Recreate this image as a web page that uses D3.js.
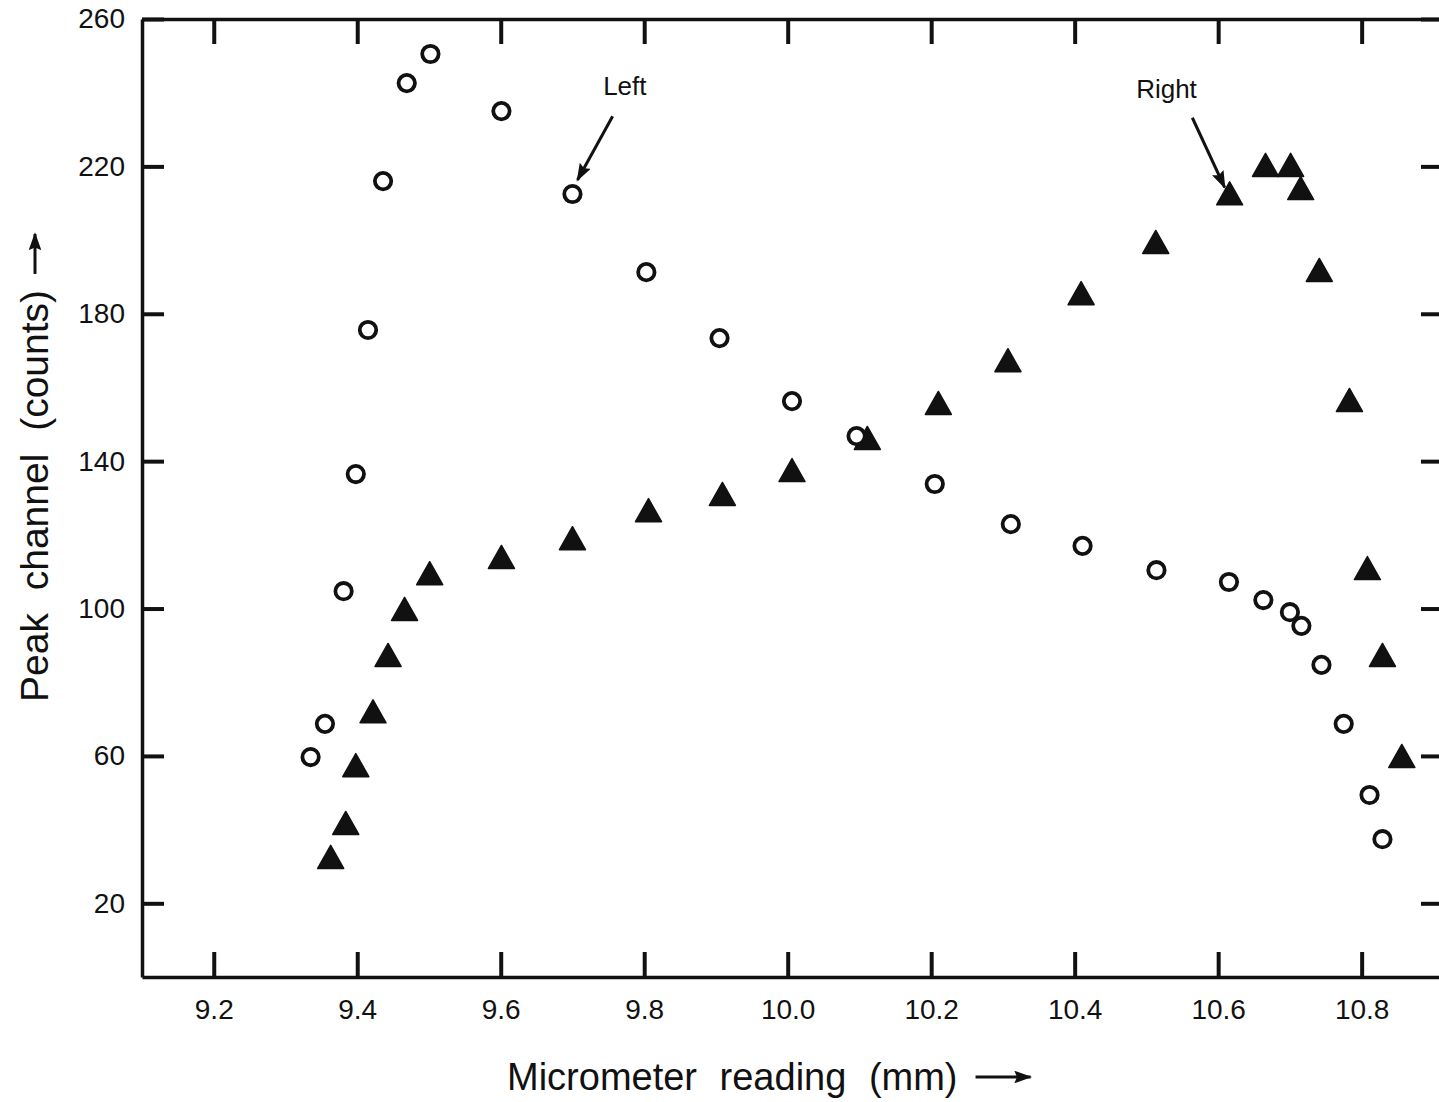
<!DOCTYPE html>
<html>
<head>
<meta charset="utf-8">
<script src="https://cdn.jsdelivr.net/npm/d3@7"></script>
<style>
  body { margin: 0; background: #fff; }
  text { font-family: "Liberation Sans", Arial, Helvetica, sans-serif; fill: #111; }
</style>
</head>
<body>
<div id="chart"></div>
<script>
// micrometer reading (mm) and peak channel (counts) per detector
var leftX = [9.335, 9.355, 9.381, 9.398, 9.415, 9.436, 9.469, 9.502, 9.601, 9.700, 9.803, 9.905,
  10.006, 10.096, 10.205, 10.311, 10.411, 10.514, 10.615, 10.663, 10.700, 10.716, 10.744, 10.775, 10.811, 10.829];
var leftY = [59.7, 68.7, 104.7, 136.5, 175.6, 216, 242.6, 250.5, 235, 212.5, 191.3, 173.4,
  156.3, 146.8, 133.8, 122.9, 117, 110.4, 107.2, 102.3, 99, 95.3, 84.7, 68.7, 49.4, 37.4];

var rightX = [9.363, 9.384, 9.398, 9.422, 9.443, 9.466, 9.501, 9.601, 9.700, 9.806, 9.909, 10.006,
  10.111, 10.210, 10.307, 10.409, 10.513, 10.616, 10.666, 10.701, 10.715, 10.741, 10.783, 10.808, 10.829, 10.856];
var rightY = [32.6, 41.8, 57.5, 72.1, 87.4, 99.9, 109.6, 114, 119.1, 126.7, 131.1, 137.6,
  146.3, 155.8, 167.4, 185.6, 199.5, 212.7, 220.4, 220.4, 214.1, 191.9, 156.6, 111, 87.4, 60];

var xTicks = [9.2, 9.4, 9.6, 9.8, 10.0, 10.2, 10.4, 10.6, 10.8];
var yTicks = [20, 60, 100, 140, 180, 220, 260];

var svgWidth = 1439, svgHeight = 1102;
var margin = {top: 19, left: 142, bottom: 125};

var svg = d3.select("#chart").append("svg")
  .attr("width", svgWidth)
  .attr("height", svgHeight);

var x = d3.scaleLinear().domain([9.1, 10.912]).range([margin.left, 1442]);
var y = d3.scaleLinear().domain([0, 260]).range([svgHeight - margin.bottom, margin.top]);

var ink = "#111";
var frameW = 3.5;

function styleAxis(g) {
  g.select(".domain").attr("stroke", ink).attr("stroke-width", frameW);
  g.selectAll(".tick line").attr("stroke", ink).attr("stroke-width", 4);
  g.selectAll(".tick text").style("font-size", "28px").attr("fill", ink);
}

// bottom axis with labels
svg.append("g")
  .attr("transform", `translate(0, ${y(0)})`)
  .call(d3.axisBottom(x).tickValues(xTicks).tickFormat(d3.format(".1f"))
    .tickSize(-25).tickSizeOuter(0).tickPadding(22))
  .call(styleAxis);

// top axis, ticks only
svg.append("g")
  .attr("transform", `translate(0, ${y(260)})`)
  .call(d3.axisTop(x).tickValues(xTicks).tickFormat("")
    .tickSize(-25).tickSizeOuter(0))
  .call(styleAxis);

// left axis with labels
svg.append("g")
  .attr("transform", `translate(${x(9.1)}, 0)`)
  .call(d3.axisLeft(y).tickValues(yTicks)
    .tickSize(-22).tickSizeOuter(0).tickPadding(17))
  .call(styleAxis);

// right axis, ticks only (frame edge sits just past the page)
svg.append("g")
  .attr("transform", `translate(${x(10.912)}, 0)`)
  .call(d3.axisRight(y).tickValues(yTicks).tickFormat("")
    .tickSize(-21).tickSizeOuter(0))
  .call(styleAxis);

// arrowhead marker
var defs = svg.append("defs");
defs.append("marker")
  .attr("id", "head")
  .attr("viewBox", "0 0 10 7")
  .attr("refX", 9).attr("refY", 3.5)
  .attr("markerUnits", "userSpaceOnUse")
  .attr("markerWidth", 18).attr("markerHeight", 12.6)
  .attr("orient", "auto")
  .append("path")
  .attr("d", "M0,0 L10,3.5 L0,7 L1.5,3.5 Z")
  .attr("fill", ink);

// right detector: filled triangles
var triW = 26, triH = 23;
var triPath = `M0,${-triH / 2} L${triW / 2},${triH / 2} L${-triW / 2},${triH / 2} Z`;
svg.append("g").selectAll("path")
  .data(d3.zip(rightX, rightY))
  .enter().append("path")
  .attr("d", triPath)
  .attr("transform", d => `translate(${x(d[0])}, ${y(d[1])})`)
  .attr("fill", ink)
  .attr("stroke", ink)
  .attr("stroke-width", 1.5)
  .attr("stroke-linejoin", "round");

// left detector: open circles
svg.append("g").selectAll("circle")
  .data(d3.zip(leftX, leftY))
  .enter().append("circle")
  .attr("cx", d => x(d[0]))
  .attr("cy", d => y(d[1]))
  .attr("r", 8.2)
  .attr("fill", "#fff")
  .attr("stroke", ink)
  .attr("stroke-width", 3.8);

// annotations: label position and arrow from/to, in data units
var noteText = ["Left", "Right"];
var noteAt = [[9.773, 239.3], [10.528, 238.5]];
var noteFrom = [[9.756, 233.6], [10.564, 233.2]];
var noteTo = [[9.707, 216.3], [10.609, 214.3]];

noteText.forEach(function(t, i) {
  svg.append("text")
    .attr("x", x(noteAt[i][0]))
    .attr("y", y(noteAt[i][1]))
    .attr("text-anchor", "middle")
    .style("font-size", "26px")
    .text(t);
  svg.append("line")
    .attr("x1", x(noteFrom[i][0])).attr("y1", y(noteFrom[i][1]))
    .attr("x2", x(noteTo[i][0])).attr("y2", y(noteTo[i][1]))
    .attr("stroke", ink).attr("stroke-width", 3)
    .attr("marker-end", "url(#head)");
});

// axis titles with trailing arrows
var xTitle = svg.append("text")
  .attr("x", 507)
  .attr("y", 1090)
  .style("font-size", "38px")
  .style("word-spacing", "12px")
  .text("Micrometer reading (mm)");
var xLen = xTitle.node().getComputedTextLength();
svg.append("line")
  .attr("x1", 507 + xLen + 18).attr("y1", 1077)
  .attr("x2", 507 + xLen + 73).attr("y2", 1077)
  .attr("stroke", ink).attr("stroke-width", 3)
  .attr("marker-end", "url(#head)");

var yTitle = svg.append("text")
  .attr("transform", "translate(48, 702) rotate(-90)")
  .style("font-size", "39px")
  .style("word-spacing", "12px")
  .text("Peak channel (counts)");
var yLen = yTitle.node().getComputedTextLength();
svg.append("line")
  .attr("x1", 35).attr("y1", 702 - yLen - 16)
  .attr("x2", 35).attr("y2", 702 - yLen - 56)
  .attr("stroke", ink).attr("stroke-width", 3)
  .attr("marker-end", "url(#head)");
</script>
</body>
</html>
